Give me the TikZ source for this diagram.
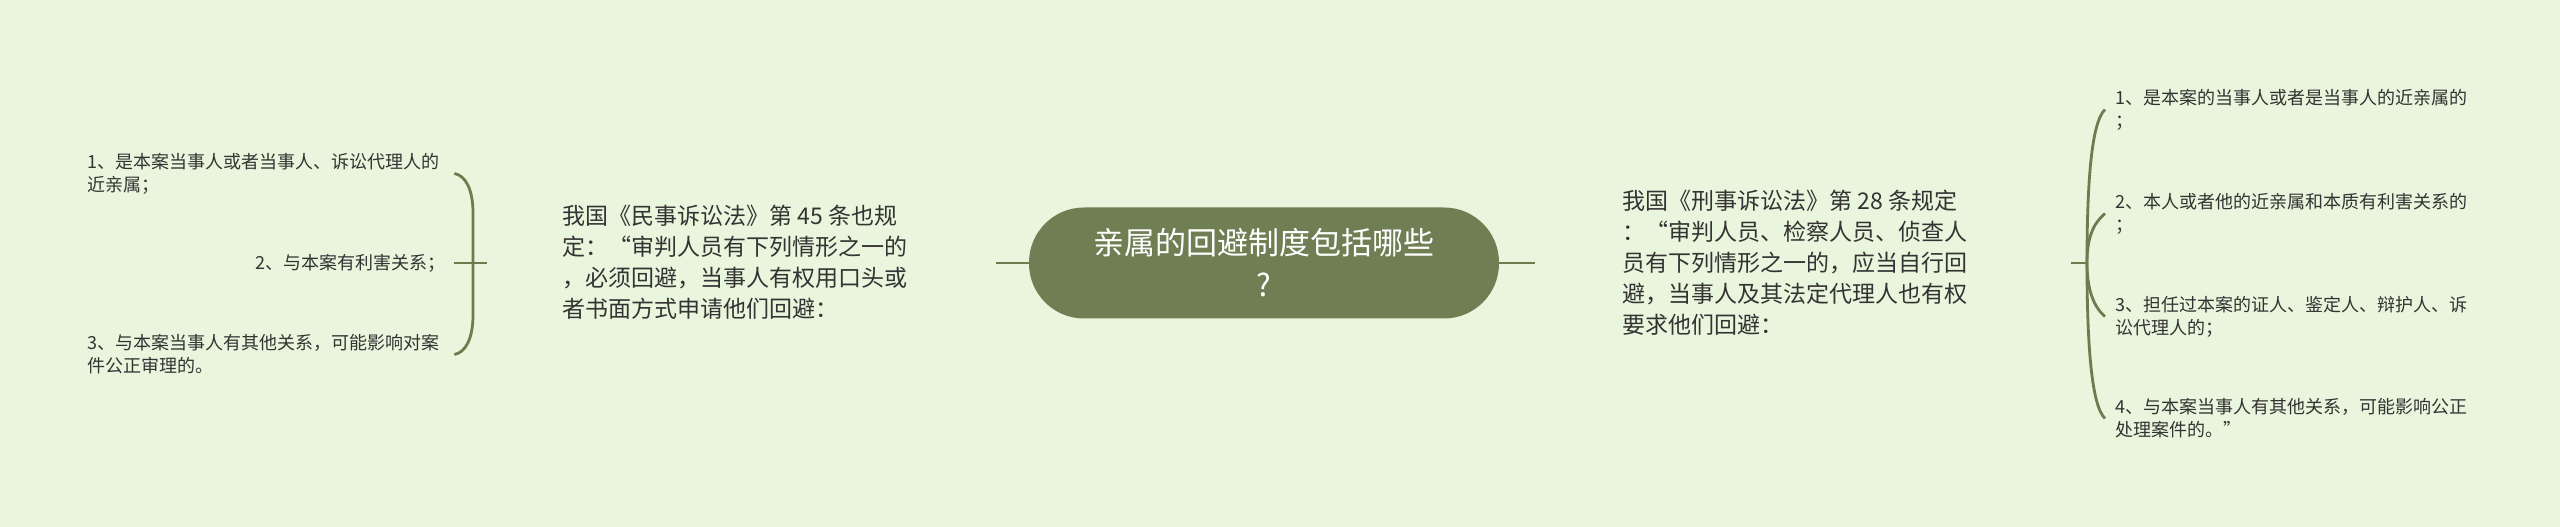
\documentclass[tikz,border=0pt]{standalone}
\usepackage{fontspec}
\setmainfont{Noto Sans CJK SC}
\definecolor{mmbg}{HTML}{E9F5DC}
\definecolor{mmolive}{HTML}{707F53}
\definecolor{mmline}{HTML}{6C7C4F}
\definecolor{mmtext}{HTML}{333333}
\tikzset{
	mmnode/.style = {align=left, inner sep=0pt, text=mmtext},
	mm_root/.style = {mmnode, align=center, rectangle, rounded corners=55pt,
		fill=mmolive, text=white, minimum width=470pt, minimum height=111pt,
		font=\fontsize{31}{42}\selectfont},% carte, noeud central
	mm_sub/.style = {mmnode, font=\fontsize{23}{31}\selectfont},% carte, branche
	mm_leaf/.style = {mmnode, font=\fontsize{18}{23}\selectfont},% carte, feuille
	link/.style = {draw=mmline, line width=2.8pt}
}
\begin{document}
\begin{tikzpicture}[x=1pt,y=1pt]
			\useasboundingbox (0,0) rectangle (2560,527);
			\fill[mmbg] (0,0) rectangle (2560,527);
			\node[mm_root] (root) at (1264,264) {亲属的回避制度包括哪些\\?};
			\node[mm_sub, anchor=west] (lmid) at (562,264.5)
				{我国《民事诉讼法》第 45 条也规\\定：“审判人员有下列情形之一的\\，必须回避，当事人有权用口头或\\者书面方式申请他们回避：};
			\node[mm_sub, anchor=west] (rmid) at (1622,264)
				{我国《刑事诉讼法》第 28 条规定\\：“审判人员、检察人员、侦查人\\员有下列情形之一的，应当自行回\\避，当事人及其法定代理人也有权\\要求他们回避：};
			\node[mm_leaf, anchor=west] (l1) at (87,353.5) {1、是本案当事人或者当事人、诉讼代理人的\\近亲属；};
			\node[mm_leaf, anchor=east] (l2) at (446,264) {2、与本案有利害关系；};
			\node[mm_leaf, anchor=west] (l3) at (87,172.5) {3、与本案当事人有其他关系，可能影响对案\\件公正审理的。};
			\node[mm_leaf, anchor=west] (r1) at (2115,417.5) {1、是本案的当事人或者是当事人的近亲属的\\；};
			\node[mm_leaf, anchor=west] (r2) at (2115,313.5) {2、本人或者他的近亲属和本质有利害关系的\\；};
			\node[mm_leaf, anchor=west] (r3) at (2115,210.5) {3、担任过本案的证人、鉴定人、辩护人、诉\\讼代理人的；};
			\node[mm_leaf, anchor=west] (r4) at (2115,108.5) {4、与本案当事人有其他关系，可能影响公正\\处理案件的。”};
			% liens
			\coordinate (rootL) at (996,264);
			\coordinate (rootR) at (1535,264);
			\draw[link] (root.west) -- (rootL);
			\draw[link] (root.east) -- (rootR);
			\coordinate (lfork) at (454,264);
			\coordinate (lstem) at (487,264);
			\draw[link] (lfork) -- (lstem);
			\draw[link] ([xshift=15pt]l1.east) .. controls +(11,-2) and +(0,24) .. (473,314)
				-- (473,212) .. controls +(0,-24) and +(11,2) .. ([xshift=15pt]l3.east);
			\coordinate (rfork) at (2087,264);
			\coordinate (rstem) at (2071,264);
			\draw[link] (rstem) -- (rfork);
			\draw[link] (rfork) .. controls +(0,77) and +(-14,-13) .. ([xshift=-10pt]r1.west);
			\draw[link] (rfork) .. controls +(0,25) and +(-12,-10) .. ([xshift=-10pt]r2.west);
			\draw[link] (rfork) .. controls +(0,-25) and +(-12,10) .. ([xshift=-10pt]r3.west);
			\draw[link] (rfork) .. controls +(0,-77) and +(-14,13) .. ([xshift=-10pt]r4.west);
			\end{tikzpicture}
\end{document}
